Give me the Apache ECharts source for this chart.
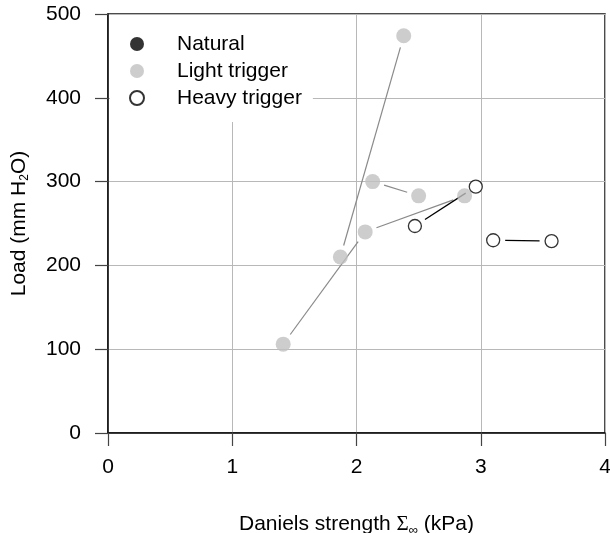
<!DOCTYPE html>
<html><head><meta charset="utf-8">
<script src="https://cdn.jsdelivr.net/npm/echarts@6/dist/echarts.min.js"></script>
<style>html,body{margin:0;padding:0;background:#fff}#c{width:610px;height:533px}</style>
</head><body><div id="c"></div>
<script>
// ---- data ----
const xTicks = [0, 1, 2, 3, 4];
const yTicks = [0, 100, 200, 300, 400, 500];
const naturalX = [];
const naturalY = [];
const lightX = [1.41, 1.87, 2.07, 2.13, 2.50, 2.87, 2.38];
const lightY = [106, 210, 240, 300, 283, 283, 474];
const heavyX = [2.47, 2.96, 3.10, 3.57];
const heavyY = [247, 294, 230, 229];
// connecting segments (index pairs into the arrays above)
const lightLinks = [[0, 2], [1, 6], [3, 4], [2, 5]];
const heavyLinks = [[0, 1], [2, 3]];
const seriesNames = ['Natural', 'Light trigger', 'Heavy trigger'];

const FONT = 'Liberation Sans, Arial, sans-serif';
const zip = (xs, ys) => xs.map((x, i) => [x, ys[i]]);

function linkSeries(xs, ys, links, color, width) {
  return {
    type: 'custom', coordinateSystem: 'cartesian2d', silent: true, z: 1,
    data: links.map(([a, b]) => [xs[a], ys[a], xs[b], ys[b]]),
    encode: { x: [0, 2], y: [1, 3] },
    renderItem: (params, api) => {
      const p1 = api.coord([api.value(0), api.value(1)]);
      const p2 = api.coord([api.value(2), api.value(3)]);
      const dx = p2[0] - p1[0], dy = p2[1] - p1[1];
      const L = Math.hypot(dx, dy), g = 12;
      const ux = dx / L, uy = dy / L;
      return {
        type: 'line',
        shape: { x1: p1[0] + ux * g, y1: p1[1] + uy * g, x2: p2[0] - ux * g, y2: p2[1] - uy * g },
        style: { stroke: color, lineWidth: width }
      };
    }
  };
}

const axisCommon = {
  axisLine: { show: true, lineStyle: { color: '#111', width: 1.5 } },
  axisTick: { show: true, inside: false, length: 13, lineStyle: { color: '#444', width: 1.2 } },
  splitLine: { show: true, lineStyle: { color: '#b8b8b8', width: 1 } },
  axisLabel: { fontSize: 21, color: '#000', fontFamily: FONT },
  nameTextStyle: { fontSize: 21, color: '#000', fontFamily: FONT }
};

const chart = echarts.init(document.getElementById('c'));
chart.setOption({
  animation: false,
  backgroundColor: '#fff',
  grid: { left: 108, right: 5, top: 14, bottom: 100, containLabel: false, outerBoundsMode: 'none',
          show: true, borderColor: '#111', borderWidth: 1.5, backgroundColor: 'transparent' },
  xAxis: Object.assign({}, axisCommon, {
    type: 'value', min: xTicks[0], max: xTicks[xTicks.length - 1], interval: 1,
    axisLabel: Object.assign({}, axisCommon.axisLabel, { margin: 24 }),
    name: 'Daniels strength {s|Σ}{sub|∞} (kPa)', nameLocation: 'middle', nameGap: 79,
    nameTextStyle: Object.assign({}, axisCommon.nameTextStyle, {
      rich: {
        s: { fontSize: 21, fontFamily: 'Liberation Serif, serif', color: '#000' },
        sub: { fontSize: 13, color: '#000', fontFamily: FONT, padding: [12, 0, 0, 0] }
      }
    })
  }),
  yAxis: Object.assign({}, axisCommon, {
    type: 'value', min: yTicks[0], max: yTicks[yTicks.length - 1], interval: 100,
    axisLabel: Object.assign({}, axisCommon.axisLabel, { margin: 27 }),
    name: 'Load (mm H{sub|2}O)', nameLocation: 'middle', nameGap: 77,
    nameTextStyle: Object.assign({}, axisCommon.nameTextStyle, {
      rich: { sub: { fontSize: 12, color: '#000', fontFamily: FONT, padding: [12, 0, 0, 0] } }
    })
  }),
  legend: {
    data: seriesNames, orient: 'vertical', left: 110, top: 15,
    padding: [17, 11, 12, 19], itemGap: 3, itemWidth: 14, itemHeight: 14, icon: 'circle',
    backgroundColor: '#fff',
    textStyle: { fontSize: 21, color: '#000', fontFamily: FONT, lineHeight: 24, padding: [0, 0, 0, 28] }
  },
  series: [
    linkSeries(lightX, lightY, lightLinks, '#8a8a8a', 1.2),
    linkSeries(heavyX, heavyY, heavyLinks, '#000', 1.3),
    { name: seriesNames[0], type: 'scatter', data: zip(naturalX, naturalY), symbol: 'circle', symbolSize: 14,
      itemStyle: { color: '#000' }, z: 3 },
    { name: seriesNames[1], type: 'scatter', data: zip(lightX, lightY), symbol: 'circle', symbolSize: 15,
      itemStyle: { color: '#c0c0c0' }, z: 3 },
    { name: seriesNames[2], type: 'scatter', data: zip(heavyX, heavyY), symbol: 'circle', symbolSize: 13,
      itemStyle: { color: '#fff', borderColor: '#000', borderWidth: 1.3 }, z: 3 }
  ]
});
</script></body></html>
